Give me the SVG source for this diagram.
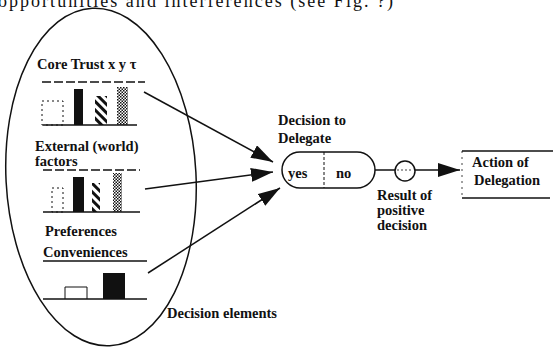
<svg xmlns="http://www.w3.org/2000/svg" width="553" height="349" viewBox="0 0 553 349">
<style>
.t{font-family:"Liberation Serif","Times New Roman",serif;font-weight:bold;font-size:14.5px;fill:#111}
.ln{stroke:#111;stroke-width:1.5;fill:none}
.dash{stroke:#111;stroke-width:1.3;stroke-dasharray:9 3;fill:none}
.bk{fill:#111}
</style>
<defs>
<marker id="ah" markerUnits="userSpaceOnUse" markerWidth="24" markerHeight="16" refX="22" refY="7" orient="auto">
<path d="M0,0 L22,7 L0,14 Z" fill="#111"/>
</marker>
<pattern id="hatch" patternUnits="userSpaceOnUse" width="6" height="6" patternTransform="rotate(-45)">
<rect width="6" height="6" fill="#fff"/><rect width="3" height="6" fill="#111"/>
</pattern>
<pattern id="chk" patternUnits="userSpaceOnUse" width="3" height="3">
<rect width="3" height="3" fill="#fff"/><rect width="1.5" height="1.5" fill="#111"/><rect x="1.5" y="1.5" width="1.5" height="1.5" fill="#111"/>
</pattern>
</defs>
<rect width="553" height="349" fill="#fff"/>
<text x="-2" y="7" style="font-family:'Liberation Serif',serif;font-size:18px;fill:#111" textLength="395">opportunities and interferences (see Fig. ?)</text>

<g id="decision-elements">
<ellipse cx="101" cy="177" rx="95" ry="169" transform="rotate(-3 101 177)" class="ln" stroke-width="2"/>
<text class="t" x="167" y="318">Decision elements</text>
</g>

<g id="core-trust">
<text class="t" x="37" y="69">Core Trust x y τ</text>
<line class="dash" x1="42" y1="82" x2="145" y2="82"/>
<rect x="42" y="101" width="21" height="24" fill="none" stroke="#111" stroke-width="1" stroke-dasharray="2 3"/>
<rect class="bk" x="74" y="89" width="9" height="36"/>
<rect x="95" y="96" width="12" height="29" fill="url(#hatch)"/>
<rect x="117" y="87" width="11" height="38" fill="url(#chk)"/>
<line class="ln" x1="43" y1="125" x2="137" y2="125" stroke-width="1.2"/>
</g>

<g id="external-factors">
<text class="t" x="35" y="151">External (world)</text>
<text class="t" x="35" y="166">factors</text>
<line class="dash" x1="43" y1="170" x2="140" y2="170"/>
<rect x="52" y="188" width="11" height="24" fill="none" stroke="#111" stroke-width="1" stroke-dasharray="2 3"/>
<rect class="bk" x="73" y="177" width="11" height="35"/>
<rect x="92" y="183" width="8" height="29" fill="url(#hatch)"/>
<rect x="113" y="173" width="9" height="39" fill="url(#chk)"/>
<line class="ln" x1="43" y1="212" x2="140" y2="212" stroke-width="1.2"/>
</g>

<g id="preferences">
<text class="t" x="45" y="236">Preferences</text>
<text class="t" x="43" y="257">Conveniences</text>
<line class="ln" x1="43" y1="261" x2="147" y2="261" stroke-width="1.2"/>
<path d="M65,299 V287 H87 V299" fill="none" stroke="#111" stroke-width="1"/>
<rect class="bk" x="103" y="273" width="22" height="26"/>
<line class="ln" x1="43" y1="299" x2="147" y2="299" stroke-width="1.2"/>
</g>

<g id="decision">
<text class="t" x="278" y="125">Decision to</text>
<text class="t" x="278" y="143">Delegate</text>
<rect x="282" y="152" width="93" height="36" rx="18" ry="18" class="ln"/>
<line x1="324" y1="152" x2="324" y2="188" stroke="#111" stroke-width="1" stroke-dasharray="3 2"/>
<text class="t" x="288" y="178">yes</text>
<text class="t" x="336" y="178">no</text>
</g>

<g id="result">
<circle cx="405" cy="171" r="10" class="ln"/>
<line x1="397" y1="170" x2="413" y2="170" stroke="#111" stroke-width="0.8" stroke-dasharray="2 2"/>
<text class="t" x="377" y="200">Result of</text>
<text class="t" x="377" y="215">positive</text>
<text class="t" x="377" y="230">decision</text>
</g>

<g id="action">
<line x1="462" y1="151" x2="553" y2="151" class="ln"/>
<line x1="462" y1="198" x2="550" y2="198" class="ln"/>
<line x1="462" y1="151" x2="462" y2="198" stroke="#111" stroke-width="0.8" stroke-dasharray="2 4"/>
<text class="t" x="472" y="167">Action of</text>
<text class="t" x="474" y="185">Delegation</text>
</g>

<g id="connectors">
<line class="ln" x1="144" y1="92" x2="273" y2="162" marker-end="url(#ah)"/>
<line class="ln" x1="145" y1="189" x2="273" y2="172" marker-end="url(#ah)"/>
<line class="ln" x1="148" y1="273" x2="280" y2="188" marker-end="url(#ah)"/>
<line class="ln" x1="375" y1="170" x2="395" y2="170"/>
<line class="ln" x1="415" y1="170" x2="460" y2="170" marker-end="url(#ah)"/>
</g>
</svg>
